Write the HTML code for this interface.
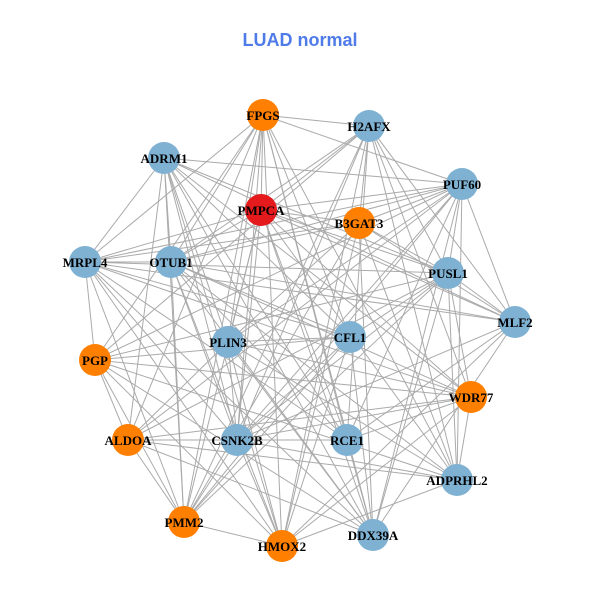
<!DOCTYPE html>
<html><head><meta charset="utf-8"><style>
html,body{margin:0;padding:0;background:#fff;}
svg{display:block;}
text{font-family:"Liberation Serif",serif;font-weight:bold;font-size:13px;fill:#000;}
.t{font-family:"Liberation Sans",sans-serif;font-size:18px;fill:#4F7BE8;}
</style></head><body>
<svg id="s" width="600" height="600" viewBox="0 0 600 600">
<text class="t" x="300" y="46" text-anchor="middle">LUAD normal</text>
<g id="e" stroke="#aaaaaa" stroke-width="1"></g>
<g id="n"></g>
</svg>
<script>
var N=[["FPGS",263,115,"o"],["H2AFX",369,126,"b"],["ADRM1",164,158,"b"],["PUF60",462,184,"b"],["PMPCA",261,210,"r"],["B3GAT3",359,223,"o"],["MRPL4",85,262,"b"],["OTUB1",171,262,"b"],["PUSL1",448,273,"b"],["MLF2",515,322,"b"],["PLIN3",228,342,"b"],["CFL1",350,337,"b"],["PGP",95,360,"o"],["WDR77",471,397,"o"],["ALDOA",128,440,"o"],["CSNK2B",237,440,"b"],["RCE1",347,440,"b"],["ADPRHL2",457,480,"b"],["PMM2",184,522,"o"],["HMOX2",282,546,"o"],["DDX39A",373,535,"b"]];
var C={o:"#FF7F00",b:"#7FB1D3",r:"#E41A1C"};
var ns="http://www.w3.org/2000/svg",e=document.getElementById("e"),g=document.getElementById("n");
var seed=7;function rnd(){seed=(seed*16807)%2147483647;return seed/2147483647;}
for(var i=0;i<N.length;i++)for(var j=i+1;j<N.length;j++){
 if(rnd()<0.72){var l=document.createElementNS(ns,"line");
 l.setAttribute("x1",N[i][1]);l.setAttribute("y1",N[i][2]);l.setAttribute("x2",N[j][1]);l.setAttribute("y2",N[j][2]);e.appendChild(l);}
}
N.forEach(function(d){var c=document.createElementNS(ns,"circle");c.setAttribute("cx",d[1]);c.setAttribute("cy",d[2]);c.setAttribute("r",16);c.setAttribute("fill",C[d[3]]);g.appendChild(c);
var t=document.createElementNS(ns,"text");t.setAttribute("x",d[1]);t.setAttribute("y",d[2]+5);t.setAttribute("text-anchor","middle");t.textContent=d[0];g.appendChild(t);});
</script>
</body></html>
